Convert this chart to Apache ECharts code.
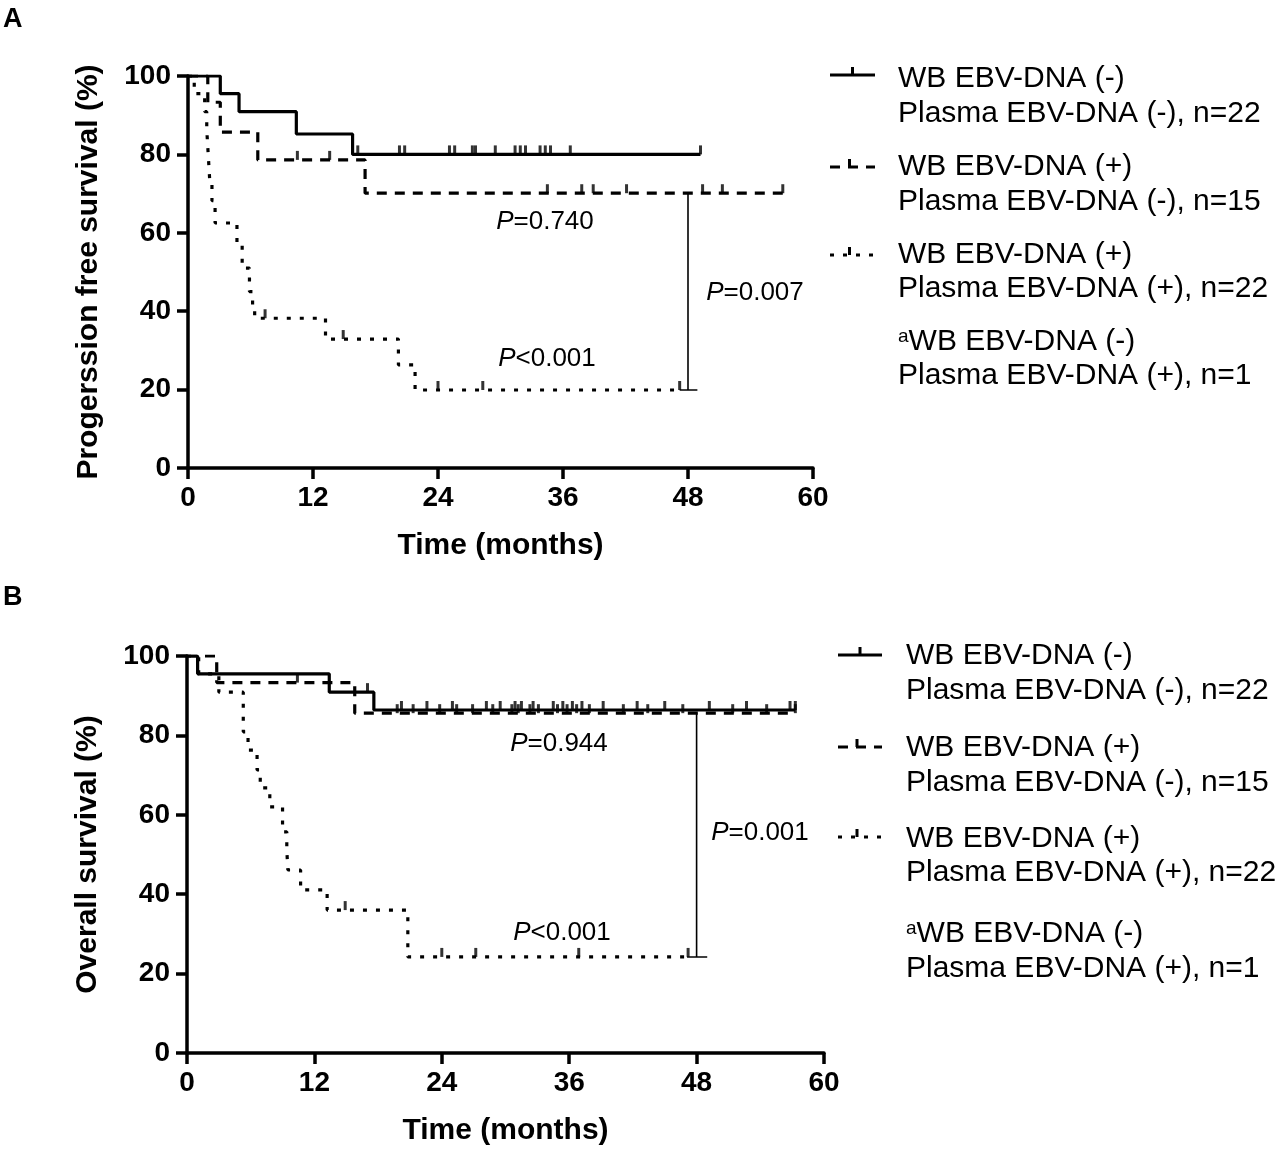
<!DOCTYPE html>
<html>
<head>
<meta charset="utf-8">
<script src="https://cdn.jsdelivr.net/npm/echarts@6/dist/echarts.min.js"></script>
<style>
  html, body { margin: 0; padding: 0; background: #fff; }
  #chart { width: 1277px; height: 1149px; }
</style>
</head>
<body>
<div id="chart"></div>
<script>
// ---- data (months, % surviving) ----
// A: progression free survival
var pfsNegNeg = [[0, 100], [3.1, 95.5], [4.9, 90.9], [10.4, 85.2], [15.8, 80], [49.2, 80]];
var pfsNegNegCensor = [16.3, 20.3, 20.8, 25.1, 25.6, 27.3, 27.6, 29.5, 31.4, 31.9, 32.4, 33.8, 34.3, 34.8, 36.7, 49.2];
var pfsPosNeg = [[0, 100], [1.9, 93.3], [3.1, 85.7], [6.7, 78.6], [17.0, 70.1], [57.1, 70.1]];
var pfsPosNegCensor = [10.5, 13.6, 34.5, 37.8, 38.9, 42.1, 49.4, 51.3, 57.1];
var pfsPosPos = [[0, 100], [0.6, 95.5], [1.6, 90.9], [1.8, 86.4], [1.9, 81.8], [2.0, 77.3], [2.1, 72.7],
  [2.3, 68.2], [2.6, 62.5], [4.7, 57], [5.2, 51], [5.9, 45], [6.2, 41], [6.4, 38.2], [13.2, 32.9],
  [20.2, 26.3], [21.8, 19.9], [47.2, 19.9]];
var pfsPosPosCensor = [7.4, 14.9, 24.0, 28.3, 47.2];
var pfsCompare = [[48, 70.1], [48, 19.9]];
var pfsCap = [[47.2, 19.9], [48.9, 19.9]];

// B: overall survival
var osNegNeg = [[0, 100], [1.0, 95.5], [13.4, 90.9], [17.6, 86.4], [57.3, 86.4]];
var osNegNegCensor = [17.0, 20.2, 22.6, 25.0, 28.2, 29.5, 30.9, 31.5, 32.6, 34.5, 35.4, 36.3, 37.2, 39.2, 42.4, 45.0, 49.2, 52.7, 56.8, 57.3];
var osPosNeg = [[0, 100], [2.8, 93.3], [15.8, 85.6], [57.3, 85.6]];
var osPosNegCensor = [10.4, 19.8, 21.3, 23.8, 25.4, 26.9, 28.8, 30.6, 31.2, 32.3, 33.1, 34.9, 35.8, 36.7, 37.9, 41.1, 43.4, 46.7, 51.4, 54.6, 57.3];
var osPosPos = [[0, 100], [1.1, 95.5], [3.0, 90.9], [5.3, 80.9], [5.75, 76.3], [6.6, 71.3], [6.9, 66.8],
  [7.8, 62.0], [9.0, 55.7], [9.4, 51.1], [9.5, 46.1], [10.7, 41.1], [13.2, 36.0], [20.8, 24.2], [47.2, 24.2]];
var osPosPosCensor = [14.9, 24.0, 27.2, 36.9, 47.2];
var osCompare = [[48, 85.6], [48, 24.2]];
var osCap = [[47.1, 24.2], [49, 24.2]];

var xTicks = [0, 12, 24, 36, 48, 60];
var yTicks = [0, 20, 40, 60, 80, 100];

var legendLines = [
  ['WB EBV-DNA (-)', 'Plasma EBV-DNA (-), n=22'],
  ['WB EBV-DNA (+)', 'Plasma EBV-DNA (-), n=15'],
  ['WB EBV-DNA (+)', 'Plasma EBV-DNA (+), n=22'],
  ['{sup|a}WB EBV-DNA (-)', 'Plasma EBV-DNA (+), n=1']
];

var FONT = '"Liberation Sans", Arial, Helvetica, sans-serif';
var DASHED = [10, 8];
var DOTTED = [4, 9];

// survival value at time t (step function lookup)
function survAt(curve, t) {
  var s = curve[0][1];
  for (var i = 0; i < curve.length; i++) {
    if (curve[i][0] <= t) s = curve[i][1];
  }
  return s;
}

function censorPoints(curve, times) {
  return times.map(function (t) { return [t, survAt(curve, t)]; });
}

function xAxisFor(idx) {
  return {
    gridIndex: idx, type: 'value', min: 0, max: 60, interval: 12,
    name: 'Time (months)', nameLocation: 'middle', nameGap: 63,
    nameTextStyle: { fontFamily: FONT, fontWeight: 'bold', fontSize: 30, color: '#000' },
    axisLine: { lineStyle: { color: '#000', width: 3.5 } },
    axisTick: { inside: false, length: 11, lineStyle: { width: 3.5, color: '#000' } },
    axisLabel: { fontFamily: FONT, fontWeight: 'bold', fontSize: 28, color: '#000', margin: 16,
      formatter: function (v) { return xTicks.indexOf(v) >= 0 ? String(v) : ''; } },
    splitLine: { show: false }
  };
}

function yAxisFor(idx, title) {
  return {
    gridIndex: idx, type: 'value', min: 0, max: 100, interval: 20,
    name: title, nameLocation: 'middle', nameGap: 84, nameRotate: 90,
    nameTextStyle: { fontFamily: FONT, fontWeight: 'bold', fontSize: 30, color: '#000' },
    axisLine: { lineStyle: { color: '#000', width: 3.5 } },
    axisTick: { inside: false, length: 11, lineStyle: { width: 3.5, color: '#000' } },
    axisLabel: { fontFamily: FONT, fontWeight: 'bold', fontSize: 28, color: '#000', margin: 17,
      formatter: function (v) { return yTicks.indexOf(v) >= 0 ? String(v) : ''; } },
    splitLine: { show: false }
  };
}

function curveSeries(idx, data, dash) {
  return {
    type: 'line', xAxisIndex: idx, yAxisIndex: idx, step: 'end', data: data,
    showSymbol: false, symbol: 'none', silent: true, z: 3,
    lineStyle: { color: '#000', width: 3.2, type: dash || 'solid', cap: 'butt' }
  };
}

function censorSeries(idx, curve, times) {
  return {
    type: 'scatter', xAxisIndex: idx, yAxisIndex: idx, data: censorPoints(curve, times),
    symbol: 'rect', symbolSize: [3, 9], symbolOffset: [0, -4.5], silent: true, z: 4,
    itemStyle: { color: '#000' }
  };
}

function thinLine(idx, data) {
  return {
    type: 'line', xAxisIndex: idx, yAxisIndex: idx, data: data, showSymbol: false,
    symbol: 'none', silent: true, z: 2, lineStyle: { color: '#000', width: 1.6 }
  };
}

// legend block: symbols + two-line labels
function legendGraphics(x0, x1, tx, rows) {
  var g = [];
  var mid = (x0 + x1) / 2;
  var styles = [null, DASHED, DOTTED];
  rows.forEach(function (r, i) {
    if (i < 3) {
      var ys = r.sym;
      g.push({ type: 'line', shape: { x1: x0, y1: ys, x2: x1, y2: ys },
        style: { stroke: '#000', lineWidth: 3, lineDash: styles[i] } });
      var tickX = i === 0 ? mid : mid - 3;
      g.push({ type: 'line', shape: { x1: tickX, y1: ys - 8, x2: tickX, y2: ys },
        style: { stroke: '#000', lineWidth: 3 } });
    }
    g.push({ type: 'text', x: tx, y: r.l1, style: { text: legendLines[i][0], font: '30px ' + FONT,
      fill: '#000', verticalAlign: 'middle', rich: { sup: { fontSize: 19, verticalAlign: 'top', fontFamily: FONT } } } });
    g.push({ type: 'text', x: tx, y: r.l2, style: { text: legendLines[i][1], font: '30px ' + FONT,
      fill: '#000', verticalAlign: 'middle' } });
  });
  return g;
}

function pText(x, y, rest) {
  return { type: 'text', x: x, y: y, style: {
    text: '{i|P}' + rest, font: '26px ' + FONT, fill: '#000', align: 'center', verticalAlign: 'middle',
    rich: { i: { fontStyle: 'italic', fontSize: 26, fontFamily: FONT } } } };
}

var chart = echarts.init(document.getElementById('chart'));

var graphics = [
  { type: 'text', x: 3, y: 20, style: { text: 'A', font: 'bold 27px ' + FONT, fill: '#000', verticalAlign: 'middle' } },
  { type: 'text', x: 3, y: 598, style: { text: 'B', font: 'bold 27px ' + FONT, fill: '#000', verticalAlign: 'middle' } },
  pText(545, 222, '=0.740'),
  pText(755, 293, '=0.007'),
  pText(547, 359, '<0.001'),
  pText(559, 744, '=0.944'),
  pText(760, 833, '=0.001'),
  pText(562, 933, '<0.001')
].concat(
  legendGraphics(830, 875, 898, [
    { sym: 75, l1: 79, l2: 114 }, { sym: 167, l1: 167, l2: 202 },
    { sym: 255, l1: 255, l2: 289 }, { l1: 342, l2: 376 }
  ]),
  legendGraphics(838, 882, 906, [
    { sym: 655, l1: 656, l2: 691 }, { sym: 747, l1: 748, l2: 783 },
    { sym: 837, l1: 839, l2: 873 }, { l1: 934, l2: 969 }
  ])
);

chart.setOption({
  animation: false,
  backgroundColor: '#fff',
  grid: [
    { left: 188, top: 76, width: 625, height: 392 },
    { left: 187, top: 656, width: 637, height: 397 }
  ],
  xAxis: [xAxisFor(0), xAxisFor(1)],
  yAxis: [yAxisFor(0, 'Progerssion free survival (%)'), yAxisFor(1, 'Overall survival (%)')],
  graphic: graphics,
  series: [
    curveSeries(0, pfsNegNeg),
    curveSeries(0, pfsPosNeg, DASHED),
    curveSeries(0, pfsPosPos, DOTTED),
    censorSeries(0, pfsNegNeg, pfsNegNegCensor),
    censorSeries(0, pfsPosNeg, pfsPosNegCensor),
    censorSeries(0, pfsPosPos, pfsPosPosCensor),
    thinLine(0, pfsCompare),
    thinLine(0, pfsCap),

    curveSeries(1, osNegNeg),
    curveSeries(1, osPosNeg, DASHED),
    curveSeries(1, osPosPos, DOTTED),
    censorSeries(1, osNegNeg, osNegNegCensor),
    censorSeries(1, osPosNeg, osPosNegCensor),
    censorSeries(1, osPosPos, osPosPosCensor),
    thinLine(1, osCompare),
    thinLine(1, osCap)
  ]
});
</script>
</body>
</html>
